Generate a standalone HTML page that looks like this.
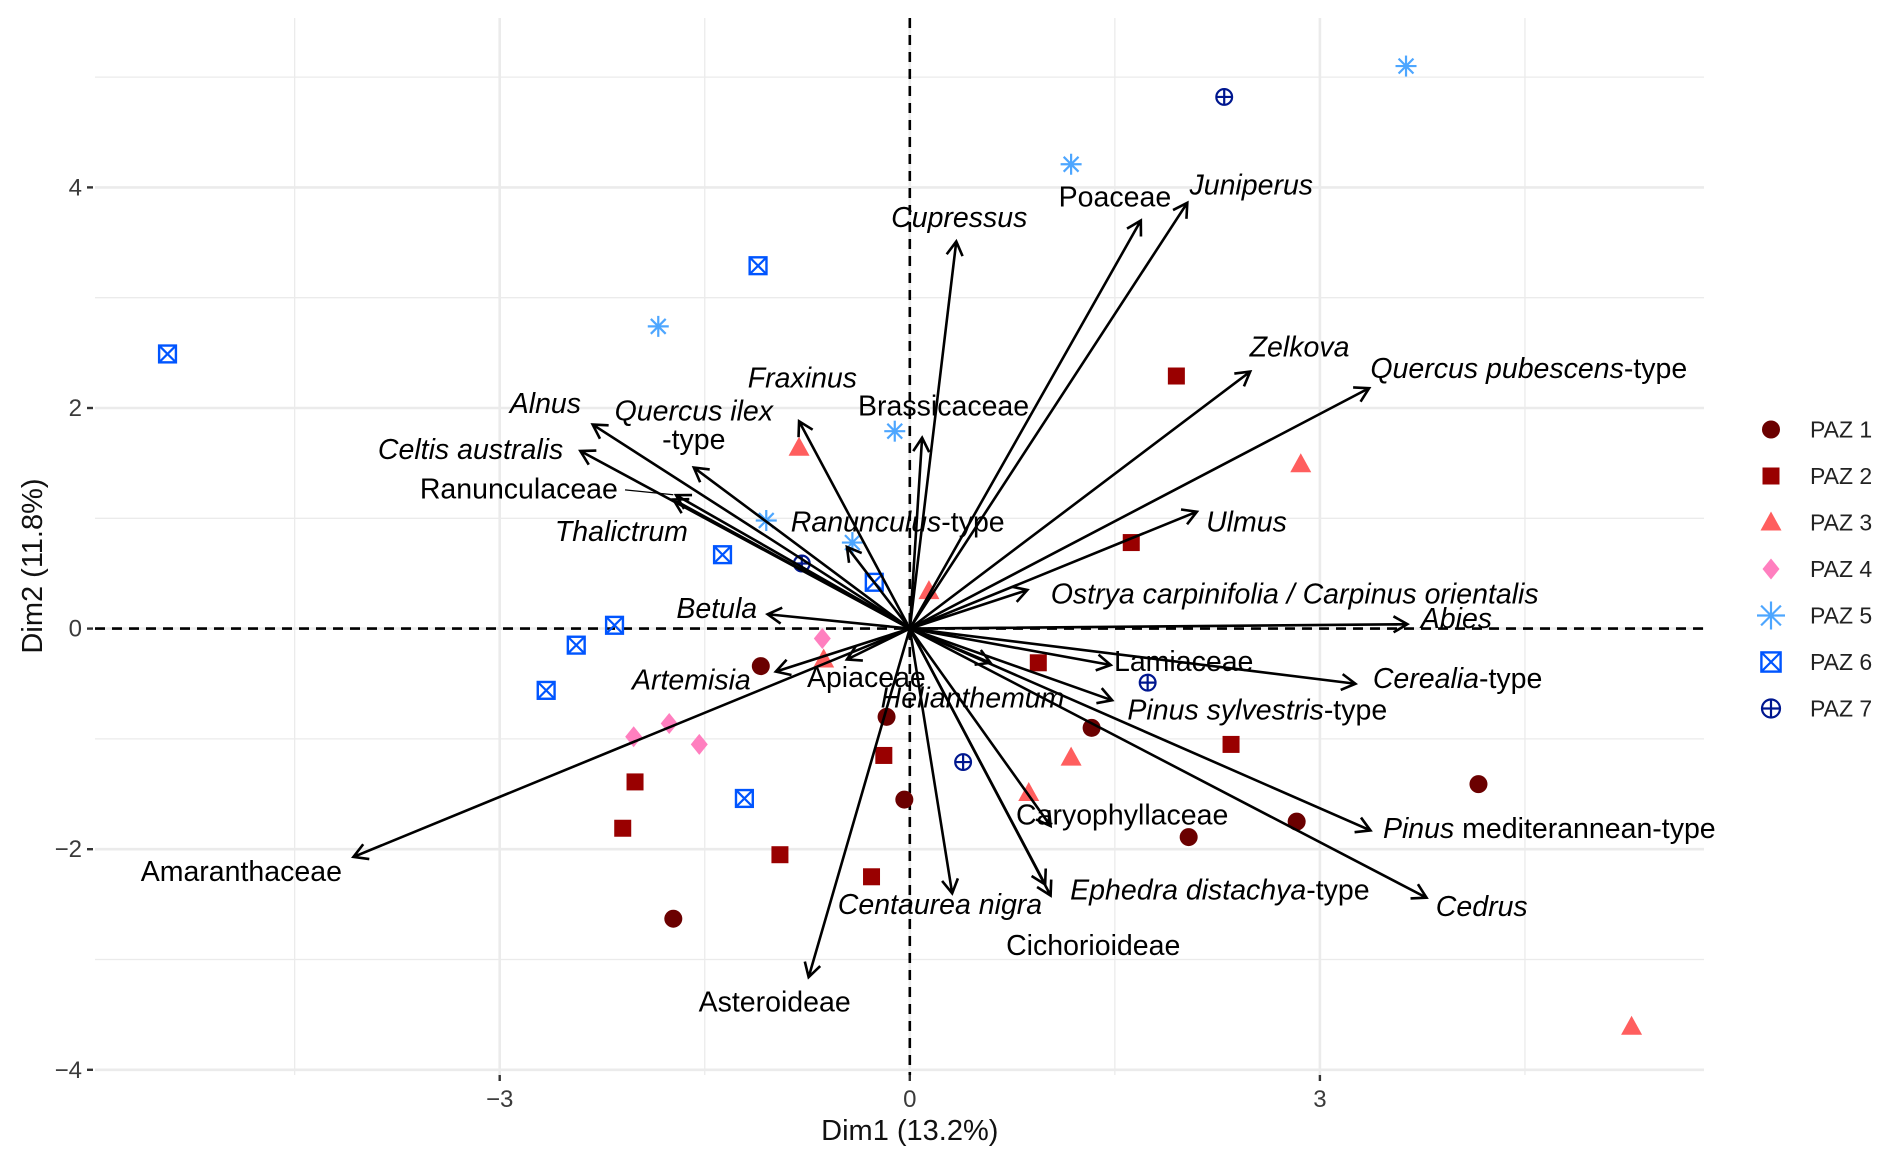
<!DOCTYPE html>
<html><head><meta charset="utf-8"><style>
html,body{margin:0;padding:0;background:#fff;}
svg{display:block;font-family:"Liberation Sans",Arial,sans-serif;}
</style></head><body>
<svg id="chart" width="1892" height="1164" viewBox="0 0 1892 1164" xmlns="http://www.w3.org/2000/svg"></svg>
<script>
// ---- data ----
const groups = ["PAZ 1","PAZ 2","PAZ 3","PAZ 4","PAZ 5","PAZ 6","PAZ 7"];
const paz1X = [-1.09,-0.17,-0.04,1.33,2.04,2.83,4.16,-1.73];
const paz1Y = [-0.34,-0.80,-1.55,-0.90,-1.89,-1.75,-1.41,-2.63];
const paz2X = [1.95,1.62,0.94,2.35,-0.19,-2.01,-2.10,-0.95,-0.28];
const paz2Y = [2.29,0.78,-0.31,-1.05,-1.15,-1.39,-1.81,-2.05,-2.25];
const paz3X = [-0.81,2.86,0.14,-0.63,1.18,0.87,5.28];
const paz3Y = [1.64,1.49,0.34,-0.28,-1.17,-1.49,-3.61];
const paz4X = [-0.64,-2.02,-1.76,-1.54];
const paz4Y = [-0.09,-0.98,-0.86,-1.05];
const paz5X = [3.63,1.18,-1.84,-0.11,-1.05,-0.42];
const paz5Y = [5.10,4.21,2.74,1.79,0.98,0.78];
const paz6X = [-5.43,-1.11,-1.37,-0.26,-2.16,-2.44,-2.66,-1.21];
const paz6Y = [2.49,3.29,0.67,0.42,0.03,-0.15,-0.56,-1.54];
const paz7X = [2.30,-0.79,1.74,0.39];
const paz7Y = [4.82,0.59,-0.49,-1.21];

const taxa = ["Cupressus","Poaceae","Juniperus","Zelkova","Quercus pubescens-type","Ulmus","Ostrya carpinifolia / Carpinus orientalis","Abies","Lamiaceae","Cerealia-type","Pinus sylvestris-type","Pinus mediterannean-type","Cedrus","Caryophyllaceae","Ephedra distachya-type","Cichorioideae","Centaurea nigra","Asteroideae","Amaranthaceae","Artemisia","Apiaceae","Helianthemum","Betula","Thalictrum","Ranunculaceae","Celtis australis","Alnus","Quercus ilex-type","Fraxinus","Brassicaceae","Ranunculus-type"];
const loadX = [0.34,1.69,2.03,2.49,3.36,2.10,0.86,3.64,1.47,3.26,1.48,3.37,3.78,1.03,1.03,0.99,0.31,-0.74,-4.07,-0.98,-0.46,0.59,-1.04,-1.73,-1.71,-2.41,-2.32,-1.58,-0.81,0.09,-0.46];
const loadY = [3.51,3.70,3.86,2.33,2.18,1.06,0.35,0.04,-0.33,-0.50,-0.65,-1.83,-2.44,-1.79,-2.42,-2.32,-2.40,-3.16,-2.07,-0.39,-0.28,-0.31,0.13,1.17,1.21,1.61,1.85,1.46,1.88,1.73,0.74];

const xTicks = [-3,0,3];
const yTicks = [-4,-2,0,2,4];
const xTickLabels = ["\u22123","0","3"];
const yTickLabels = ["\u22124","\u22122","0","2","4"];

// ---- layout ----
const S = 1892/1568;
const X0 = 909.8, UX = 136.7, Y0 = 628.6, UY = 110.3;
const PL = 95, PR = 1704, PT = 18, PB = 1075;
const sx = v => X0 + v*UX;
const sy = v => Y0 - v*UY;
const svg = document.getElementById('chart');
const NS = "http://www.w3.org/2000/svg";
function mk(tag, attrs, parent){ const e=document.createElementNS(NS,tag); for(const k in attrs) e.setAttribute(k,attrs[k]); (parent||svg).appendChild(e); return e; }

// grid
const grid = mk('g',{});


[-4.5,-1.5,1.5,4.5].forEach(v=>mk('line',{x1:sx(v),x2:sx(v),y1:PT,y2:PB,stroke:'#ebebeb','stroke-width':1.3},grid));
[-3,-1,1,3,5].forEach(v=>mk('line',{x1:PL,x2:PR,y1:sy(v),y2:sy(v),stroke:'#ebebeb','stroke-width':1.3},grid));
xTicks.forEach(v=>mk('line',{x1:sx(v),x2:sx(v),y1:PT,y2:PB,stroke:'#ebebeb','stroke-width':2.6},grid));
yTicks.forEach(v=>mk('line',{x1:PL,x2:PR,y1:sy(v),y2:sy(v),stroke:'#ebebeb','stroke-width':2.6},grid));

// ticks & labels
const axes = mk('g',{});


xTicks.forEach((v,i)=>{
  mk('line',{x1:sx(v),x2:sx(v),y1:1075,y2:1081,stroke:'#333','stroke-width':2.4},axes);
  const t=mk('text',{x:sx(v),y:1107,'text-anchor':'middle','font-size':24,fill:'#3a3a3a'},axes);
  
  
  t.textContent=xTickLabels[i];
});
yTicks.forEach((v,i)=>{
  mk('line',{x1:87,x2:93,y1:sy(v),y2:sy(v),stroke:'#333','stroke-width':2.4},axes);
  const t=mk('text',{x:82,y:sy(v)+8,'text-anchor':'end','font-size':24,fill:'#3a3a3a'},axes);
  
  
  t.textContent=yTickLabels[i];
});
const xt=mk('text',{x:sx(0),y:1140,'text-anchor':'middle','font-size':29,fill:'#111'});


xt.textContent='Dim1 (13.2%)';
const yt=mk('text',{x:0,y:0,'text-anchor':'middle','font-size':29,fill:'#111',transform:'translate(42,566) rotate(-90)'});


yt.textContent='Dim2 (11.8%)';

// dashed zero lines
const z1=mk('line',{x1:sx(0),x2:sx(0),y1:PT,y2:PB,stroke:'#000','stroke-width':2.6,'stroke-dasharray':'10,7'});


const z2=mk('line',{x1:PL,x2:PR,y1:sy(0),y2:sy(0),stroke:'#000','stroke-width':2.6,'stroke-dasharray':'10,7'});



// markers
const colors = ['#6b0000','#990000','#ff5e5e','#ff7fbf','#4da6ff','#0055ff','#00178f'];
function marker(g, k, cx, cy, parent){
  const c=colors[k];
  if(k===0) mk('circle',{cx,cy,r:9,fill:c},parent);
  else if(k===1) mk('rect',{x:cx-8.5,y:cy-8.5,width:17,height:17,fill:c},parent);
  else if(k===2) mk('polygon',{points:`${cx},${cy-11} ${cx-10.5},${cy+8} ${cx+10.5},${cy+8}`,fill:c},parent);
  else if(k===3) mk('polygon',{points:`${cx},${cy-10.5} ${cx+8.5},${cy} ${cx},${cy+10.5} ${cx-8.5},${cy}`,fill:c},parent);
  else if(k===4){ const r=g; [[0,1],[1,0],[0.707,0.707],[0.707,-0.707]].forEach(([a,b])=>mk('line',{x1:cx-a*r,y1:cy-b*r,x2:cx+a*r,y2:cy+b*r,stroke:c,'stroke-width':2.2},parent)); }
  else if(k===5){ const r=g*0.8; mk('rect',{x:cx-r,y:cy-r,width:2*r,height:2*r,fill:'none',stroke:c,'stroke-width':2.4},parent); mk('path',{d:`M${cx-r},${cy-r}L${cx+r},${cy+r}M${cx+r},${cy-r}L${cx-r},${cy+r}`,stroke:c,'stroke-width':2.2},parent); }
  else { const r=g*0.75; mk('circle',{cx,cy,r,fill:'none',stroke:c,'stroke-width':2.2},parent); mk('path',{d:`M${cx-r},${cy}L${cx+r},${cy}M${cx},${cy-r}L${cx},${cy+r}`,stroke:c,'stroke-width':2.2},parent); }
}
const series = [[paz1X,paz1Y],[paz2X,paz2Y],[paz3X,paz3Y],[paz4X,paz4Y],[paz5X,paz5Y],[paz6X,paz6Y],[paz7X,paz7Y]];
series.forEach(([xs,ys],k)=>{
  const g=mk('g',{});
  
  
  xs.forEach((v,i)=>{
    const p=mk('g',{},g);
    
    
    marker(10.5,k,sx(v),sy(ys[i]),p);
  });
});

// arrows
const arrows=mk('g',{});


loadX.forEach((v,i)=>{
  const x2=sx(v), y2=sy(loadY[i]);
  const a=Math.atan2(y2-Y0,x2-X0), L=16, w=Math.PI/6;
  const g=mk('g',{},arrows);
  
  
  mk('path',{d:`M${X0},${Y0}L${x2},${y2}M${x2-L*Math.cos(a-w)},${y2-L*Math.sin(a-w)}L${x2},${y2}L${x2-L*Math.cos(a+w)},${y2-L*Math.sin(a+w)}`,stroke:'#000','stroke-width':2.6,fill:'none'},g);
});

// labels: [segments, display x, display y]
const I=true, N=false;
const labelDefs = [
 [[["Cupressus",I]],795,180],[[["Poaceae",N]],924,163],[[["Juniperus",I]],1037,153],[[["Zelkova",I]],1077,287],
 [[["Quercus pubescens",I],["-type",N]],1267,305],[[["Ulmus",I]],1033,432],
 [[["Ostrya carpinifolia / Carpinus orientalis",I]],1073,492],[[["Abies",I]],1207,512],[[["Lamiaceae",N]],981,548],
 [[["Cerealia",I],["-type",N]],1208,562],[[["Pinus sylvestris",I],["-type",N]],1042,588],
 [[["Pinus",I],[" mediterannean-type",N]],1284,686],[[["Cedrus",I]],1228,751],[[["Caryophyllaceae",N]],930,675],
 [[["Ephedra distachya",I],["-type",N]],1011,737],[[["Cichorioideae",N]],906,783],[[["Centaurea nigra",I]],779,749],
 [[["Asteroideae",N]],642,830],[[["Amaranthaceae",N]],200,722],[[["Artemisia",I]],573,563],[[["Apiaceae",N]],718,561],
 [[["Helianthemum",I]],806,578],[[["Betula",I]],594,504],[[["Thalictrum",I]],515,440],[[["Ranunculaceae",N]],430,405],
 [[["Celtis australis",I]],390,372],[[["Alnus",I]],452,334],[[["Quercus ilex",I]],575,340],[[["-type",N]],575,364],
 [[["Fraxinus",I]],665,313],[[["Brassicaceae",N]],782,336],[[["Ranunculus",I],["-type",N]],744,432]
];
mk('line',{x1:518*S,y1:406*S,x2:558*S,y2:410*S,stroke:'#000','stroke-width':1.2});
const lg=mk('g',{});


labelDefs.forEach(([segs,x,y])=>{
  const t=mk('text',{x:x*S,y:y*S+10,'text-anchor':'middle','font-size':28.5,fill:'#000'},lg);
  
  
  segs.forEach(([s,it])=>{ const sp=mk('tspan',it?{'font-style':'italic'}:{},t); sp.textContent=s; });
});

// legend
const leg=mk('g',{});


groups.forEach((gname,k)=>{
  const y=429.5+k*46.5;
  const e=mk('g',{},leg);
  
  
  marker(k===4?14:12,k,1771,y,e);
  const t=mk('text',{x:1810,y:y+8,'font-size':23,fill:'#222'},e);
  t.textContent=gname;
});
</script>
</body></html>
